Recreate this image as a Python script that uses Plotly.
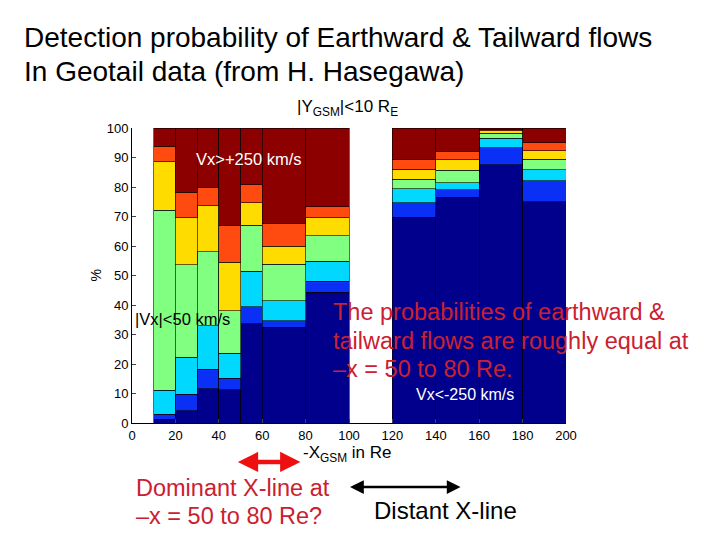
import plotly.graph_objects as go

# bins in -X_GSM (Re)
bin_centers = [15, 25, 35, 45, 55, 70, 90, 130, 150, 170, 190]
bin_widths = [10, 10, 10, 10, 10, 20, 20, 20, 20, 20, 20]

# percentage per velocity class, bottom to top
vx_lt_m250 = [1.2, 4.2, 11.6, 11.2, 33.6, 32.4, 44.4, 69.8, 76.6, 87.6, 75.0]
vx_m250_m150 = [1.8, 5.5, 6.7, 3.9, 5.8, 2.3, 3.7, 4.8, 2.4, 5.7, 7.2]
vx_m150_m50 = [8.1, 12.6, 14.7, 8.5, 12.0, 6.8, 6.8, 4.8, 2.4, 3.3, 3.7]
vx_abs_lt50 = [61.0, 31.3, 25.0, 14.4, 15.7, 12.3, 8.5, 3.3, 4.2, 1.6, 3.5]
vx_50_150 = [16.5, 15.9, 15.6, 16.5, 7.6, 6.2, 6.2, 3.4, 3.7, 0.8, 2.9]
vx_150_250 = [5.3, 8.8, 6.4, 12.4, 6.0, 7.5, 3.7, 3.1, 2.7, 0.4, 2.7]
vx_gt_p250 = [6.1, 21.7, 20.0, 33.1, 19.3, 32.5, 26.7, 10.8, 8.0, 0.6, 5.0]

series = [vx_lt_m250, vx_m250_m150, vx_m150_m50, vx_abs_lt50,
          vx_50_150, vx_150_250, vx_gt_p250]
colors = ['#00008c', '#0a30f5', '#00d8ff', '#80ff80',
          '#ffdc00', '#ff4a10', '#8c0000']

FONT = 'Liberation Sans, Arial, sans-serif'
RED = '#cc2030'

fig = go.Figure()
for vals, col in zip(series, colors):
    fig.add_trace(go.Bar(x=bin_centers, y=vals, width=bin_widths,
                         marker=dict(color=col, line=dict(color='black', width=0.6)),
                         showlegend=False))

# page body adds 8px offset, so margins are shifted accordingly
fig.update_layout(
    barmode='stack',
    width=720, height=540,
    margin=dict(l=124, r=162, t=120, b=125),
    plot_bgcolor='white', paper_bgcolor='white',
    font=dict(family=FONT, color='black'),
)
fig.update_xaxes(range=[0, 200], tickvals=list(range(0, 201, 20)),
                 ticks='inside', ticklen=4, showline=True, linecolor='black',
                 showgrid=False, zeroline=False, tickfont=dict(size=13))
fig.update_yaxes(range=[0, 100], tickvals=list(range(0, 101, 10)),
                 ticks='inside', ticklen=4, showline=True, linecolor='black',
                 showgrid=False, zeroline=False, tickfont=dict(size=13))

ann = [
    dict(text='Detection probability of Earthward & Tailward flows', x=-0.254, y=1.308,
         font=dict(size=28)),
    dict(text='In Geotail data (from H. Hasegawa)', x=-0.254, y=1.19,
         font=dict(size=28)),
    dict(text='|Y<sub>GSM</sub>|<10 R<sub>E</sub>', x=0.497, y=1.068,
         xanchor='center', font=dict(size=17)),
    dict(text='%', x=-0.085, y=0.5, textangle=-90,
         xanchor='center', font=dict(size=14)),
    dict(text='-X<sub>GSM</sub> in Re', x=0.497, y=-0.104,
         xanchor='center', font=dict(size=17)),
    dict(text='The probabilities of earthward &', x=0.459, y=0.375,
         font=dict(size=23.5, color=RED)),
    dict(text='tailward flows are roughly equal at', x=0.459, y=0.279,
         font=dict(size=23.5, color=RED)),
    dict(text='–x = 50 to 80 Re.', x=0.459, y=0.183,
         font=dict(size=23.5, color=RED)),
    dict(text='Dominant X-line at', x=0.005, y=-0.222,
         font=dict(size=23.5, color=RED)),
    dict(text='–x = 50 to 80 Re?', x=0.005, y=-0.316,
         font=dict(size=23.5, color=RED)),
    dict(text='Distant X-line', x=0.552, y=-0.297,
         font=dict(size=24)),
]
for a in ann:
    a.setdefault('xanchor', 'left')
    a.update(xref='paper', yref='paper', yanchor='middle', showarrow=False)
    fig.add_annotation(**a)

# labels inside the bars
fig.add_annotation(text='Vx>+250 km/s', x=53.9, y=89.5, showarrow=False,
                   font=dict(size=16.5, color='white'))
fig.add_annotation(text='|Vx|<50 km/s', x=23.3, y=35.3, showarrow=False,
                   font=dict(size=16.5, color='black'))
fig.add_annotation(text='Vx<-250 km/s', x=153.5, y=9.5, showarrow=False,
                   font=dict(size=16, color='white'))

# double arrows
fig.add_annotation(text='', xref='paper', yref='paper', x=0.388, y=-0.132,
                   ax=-64, ay=0, showarrow=True, arrowside='end+start',
                   arrowhead=2, arrowsize=0.9, arrowwidth=4.5, arrowcolor='#ee1010')
fig.add_annotation(text='', xref='paper', yref='paper', x=0.757, y=-0.217,
                   ax=-112, ay=0, showarrow=True, arrowside='end+start',
                   arrowhead=2, arrowsize=1.1, arrowwidth=2.5, arrowcolor='black')

fig.write_html("out.html")
